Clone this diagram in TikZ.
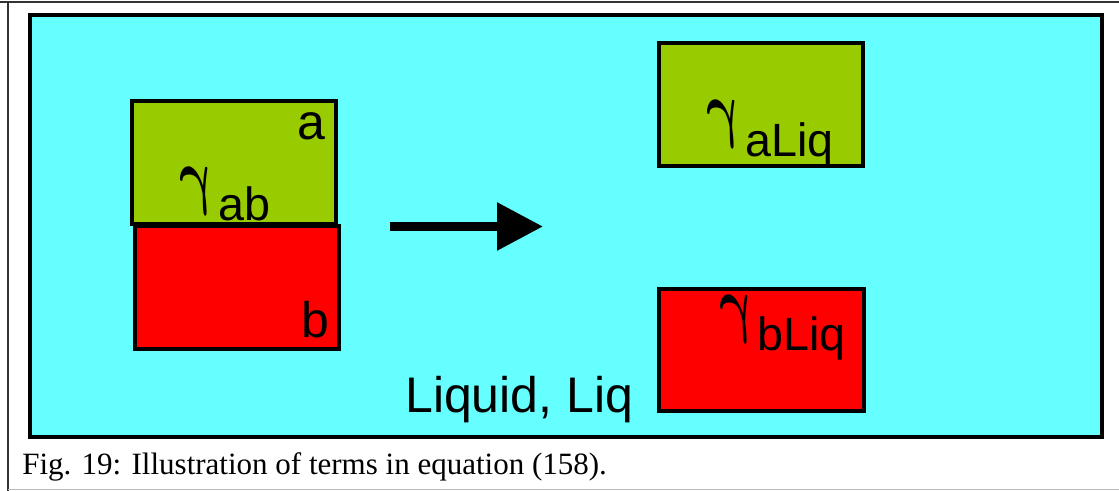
\RequirePackage{fix-cm}
\documentclass[tikz,border=0pt]{standalone}
\usepackage{fontspec}
\usepackage{graphicx}
\setmainfont{Liberation Sans}
\newfontfamily\serifcap{Liberation Serif}
\usetikzlibrary{arrows.meta}
\definecolor{liqcyan}{HTML}{66FFFF}
\definecolor{phgreen}{HTML}{99CC00}
\definecolor{phred}{HTML}{FF0000}
\definecolor{framegray}{HTML}{333333}
\definecolor{lightgray2}{HTML}{BBBBBB}
\newcommand{\gammaglyph}{\scalebox{0.66}[1]{$\gamma$}}
\tikzset{
  phase/.style={draw=black, line width=2.6pt},
  lab/.style={inner sep=0pt, font=\fontsize{37.5}{40}\selectfont},
  gam/.style={inner sep=0pt, xslant=-0.22, transform shape, font=\boldmath\fontsize{56}{60}\selectfont},
  sub/.style={inner sep=0pt, font=\fontsize{35}{36}\selectfont},
}
\begin{document}
\begin{tikzpicture}[x=0.75pt,y=-0.75pt]
\useasboundingbox (0,0) rectangle (1119,491);
% page frame
\draw[framegray, line width=1.5pt] (0,2) -- (1119,2);
\draw[framegray, line width=1.2pt] (8,2) -- (8,491);
\draw[lightgray2, line width=1.2pt] (8,489.5) -- (1119,489.5);
% liquid
\draw[fill=liqcyan, draw=black, line width=3pt] (30,15) rectangle (1102,437);
% phases left
\draw[phase, fill=phgreen] (132,101) rectangle (336,224);
\draw[phase, fill=phred] (135,226) rectangle (339,349);
% phases right
\draw[phase, fill=phgreen] (659,43) rectangle (863,166);
\draw[phase, fill=phred] (659,289) rectangle (864,411);
% labels
\node[lab, anchor=base east] (la) at (326,140) {a};
\node[lab, anchor=base east] (lb) at (330,337) {b};
\node[gam, anchor=north west] (g1) at (177,167) {\gammaglyph};
\node[sub, anchor=base west] (s1) at (218,221) {ab};
\node[gam, anchor=north west] (g2) at (704,100) {\gammaglyph};
\node[sub, anchor=base west] (s2) at (745,157) {aLiq};
\node[gam, anchor=north west] (g3) at (717,295) {\gammaglyph};
\node[sub, anchor=base west] (s3) at (757,350) {bLiq};
\node[lab, anchor=base west] (liq) at (405,412) {Liquid, Liq};
% arrow
\coordinate (arS) at (390,226.5);
\coordinate (arE) at (543,226.5);
\draw[line width=6.75pt, -{Triangle[length=34.5pt,width=34.5pt]}] (arS) -- (arE);
% caption
\node[inner sep=0pt, anchor=base west, font=\serifcap\fontsize{23.25}{26}\selectfont] (cap) at (22,474) {Fig. 19: Illustration of terms in equation (158).};
\end{tikzpicture}
\end{document}
